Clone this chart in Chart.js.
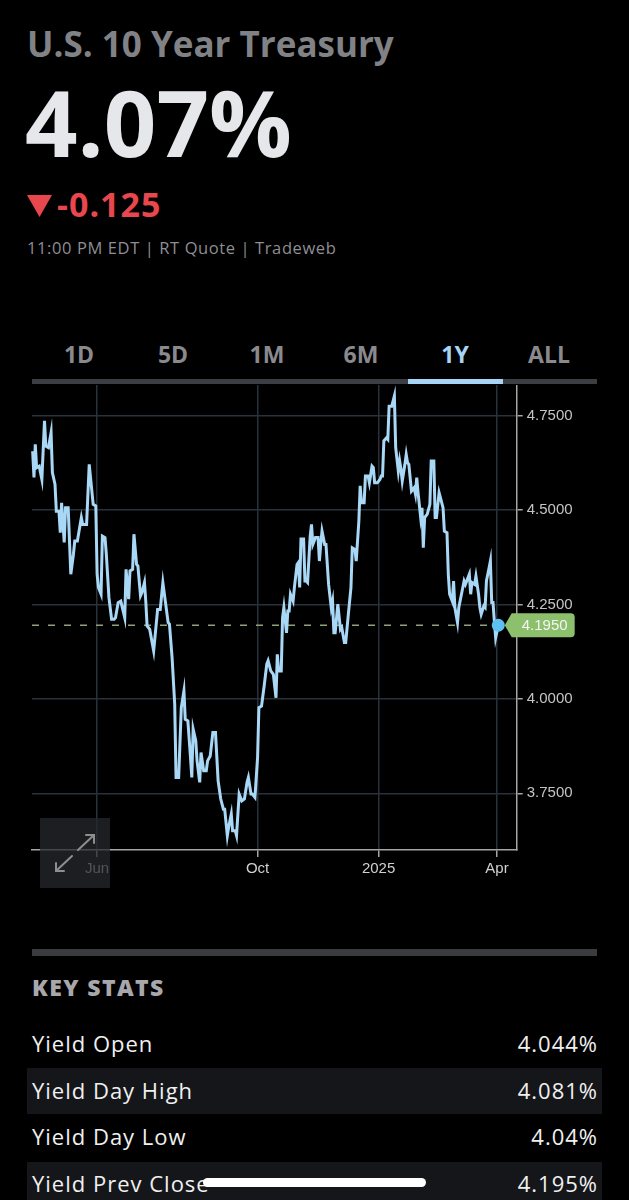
<!DOCTYPE html>
<html>
<head>
<meta charset="utf-8">
<title>U.S. 10 Year Treasury</title>
<script src="https://cdn.jsdelivr.net/npm/chart.js@4.4.1/dist/chart.umd.min.js"></script>
<style>
  html, body { margin: 0; padding: 0; background: #000; }
  body { width: 629px; height: 1200px; position: relative; overflow: hidden; font-family: "Open Sans", Lato, sans-serif; }
  .abs { position: absolute; line-height: 1; white-space: nowrap; }
  .title { left: 27px; top: 26px; font-size: 35px; font-weight: 700; color: #818286; }
  .price { left: 25px; top: 76px; font-size: 92px; font-weight: 700; color: #e6e7eb; }
  .change { left: 57px; top: 187px; font-size: 34px; font-weight: 700; color: #e8474e; letter-spacing: 1px; }
  .quote { left: 27px; top: 240px; font-size: 16.5px; color: #8e8e93; letter-spacing: 0.6px; }
  .tab { top: 343px; width: 94px; text-align: center; font-size: 23px; font-weight: 700; color: #8a8a8e; }
  .tab.active { color: #a6d4f4; }
  .tabbar { left: 32px; top: 379px; width: 565px; height: 5px; background: #3b3e43; }
  .tabsel { left: 408px; top: 379px; width: 95px; height: 5px; background: #a6d4f4; }
  #chartBox { position: absolute; left: 0; top: 385px; width: 629px; height: 515px; }
  .expand { position: absolute; left: 40px; top: 818px; width: 70px; height: 70px; background: rgba(38, 40, 44, 0.75); }
  .sep { left: 32px; top: 949px; width: 565px; height: 7px; background: #3a3c40; }
  .keystats { left: 32px; top: 976px; font-size: 23px; font-weight: 800; color: #a8a8ac; letter-spacing: 1.4px; }
  .band { position: absolute; left: 27px; width: 575px; height: 46px; background: #15161a; }
  .lbl { left: 32px; font-size: 22px; color: #f0f0f0; letter-spacing: 1px; }
  .val { right: 31px; font-size: 22px; color: #f0f0f0; text-align: right; letter-spacing: 1px; }
  .home { position: absolute; left: 203px; top: 1178px; width: 223px; height: 9px; border-radius: 5px; background: #fff; }
</style>
</head>
<body>
  <div class="abs title">U.S. 10 Year Treasury</div>
  <div class="abs price">4.07%</div>
  <svg class="abs" style="left:27px;top:195px" width="25" height="22"><polygon points="0,0 25,0 12.5,22" fill="#e8474e"/></svg>
  <div class="abs change">-0.125</div>
  <div class="abs quote">11:00 PM EDT | RT Quote | Tradeweb</div>

  <div class="abs tab" style="left:32px">1D</div>
  <div class="abs tab" style="left:126px">5D</div>
  <div class="abs tab" style="left:220px">1M</div>
  <div class="abs tab" style="left:314px">6M</div>
  <div class="abs tab active" style="left:408px">1Y</div>
  <div class="abs tab" style="left:502px">ALL</div>
  <div class="abs tabbar"></div>
  <div class="abs tabsel"></div>

  <div id="chartBox"><canvas id="yieldChart" width="629" height="515"></canvas></div>
  <div class="expand">
    <svg width="70" height="70">
      <g stroke="#8e8e8e" stroke-width="2" fill="none" stroke-linecap="round">
        <line x1="38" y1="32" x2="54" y2="17"/>
        <polyline points="46,17 54,17 54,25"/>
        <line x1="32" y1="38" x2="16" y2="53"/>
        <polyline points="16,45 16,53 24,53"/>
      </g>
    </svg>
  </div>

  <div class="abs sep"></div>
  <div class="abs keystats">KEY STATS</div>
  <div class="band" style="top:1068px"></div>
  <div class="band" style="top:1162px"></div>
  <div class="abs lbl" style="top:1032px">Yield Open</div>
  <div class="abs val" style="top:1032px">4.044%</div>
  <div class="abs lbl" style="top:1079px">Yield Day High</div>
  <div class="abs val" style="top:1079px">4.081%</div>
  <div class="abs lbl" style="top:1125px">Yield Day Low</div>
  <div class="abs val" style="top:1125px">4.04%</div>
  <div class="abs lbl" style="top:1172px">Yield Prev Close</div>
  <div class="abs val" style="top:1172px">4.195%</div>
  <div class="home"></div>

<script>
// days since 2024-04-01
const days = [
  12, 13, 14, 15, 17, 19, 21, 22, 24, 26, 27, 29, 30, 32, 33, 34, 36, 37, 39, 41,
  43, 44, 46, 49, 50, 53, 55, 56, 58, 60, 61, 62, 64, 65, 67, 68, 70, 72, 74, 75,
  77, 79, 82, 83, 85, 86, 88, 89, 91, 92, 94, 95, 97, 98, 99, 101, 104, 107, 109, 111,
  113, 115, 116, 118, 120, 121, 123, 125, 127, 128, 130, 132, 133, 134, 136, 137, 139, 140, 142, 144,
  145, 147, 149, 151, 153, 155, 157, 158, 160, 161, 163, 164, 166, 167, 169, 171, 173, 175, 176, 178,
  179, 181, 183, 184, 186, 188, 190, 191, 193, 195, 197, 198, 199, 201, 202, 203, 205, 206, 207, 208,
  210, 211, 213, 214, 215, 216, 218, 219, 220, 221, 223, 224, 225, 227, 229, 230, 231, 232, 234, 235,
  237, 239, 240, 241, 242, 244, 246, 247, 249, 250, 252, 254, 255, 257, 258, 260, 261, 262, 264, 265,
  267, 268, 270, 271, 272, 274, 276, 277, 278, 279, 281, 282, 283, 285, 287, 288, 290, 291, 292, 293,
  295, 296, 297, 298, 300, 302, 303, 304, 305, 307, 308, 309, 310, 312, 314, 315, 317, 318, 319, 321,
  322, 324, 325, 327, 328, 329, 331, 332, 333, 335, 336, 338, 340, 341, 343, 344, 345, 346, 348, 349,
  351, 352, 353, 355, 356, 357, 359, 360, 361, 362, 363, 364, 366,
];

const yields = [
  4.656, 4.586, 4.674, 4.612, 4.616, 4.581, 4.736, 4.669, 4.665, 4.705, 4.599, 4.568, 4.497, 4.497, 4.440, 4.519, 4.414, 4.506, 4.506, 4.330,
  4.383, 4.418, 4.418, 4.480, 4.462, 4.462, 4.621, 4.586, 4.515, 4.511, 4.330, 4.295, 4.277, 4.431, 4.427, 4.383, 4.268, 4.211, 4.211, 4.215,
  4.255, 4.259, 4.215, 4.343, 4.264, 4.339, 4.343, 4.436, 4.356, 4.352, 4.273, 4.281, 4.308, 4.259, 4.193, 4.184, 4.127, 4.237, 4.237, 4.308,
  4.255, 4.202, 4.198, 4.109, 3.986, 3.792, 3.792, 3.977, 4.021, 3.946, 3.942, 3.845, 3.792, 3.920, 3.889, 3.836, 3.779, 3.858, 3.810, 3.810,
  3.836, 3.849, 3.911, 3.911, 3.783, 3.735, 3.708, 3.708, 3.638, 3.660, 3.695, 3.651, 3.651, 3.638, 3.748, 3.730, 3.735, 3.779, 3.792, 3.748,
  3.748, 3.739, 3.845, 3.977, 3.981, 4.034, 4.092, 4.101, 4.074, 4.065, 4.003, 4.118, 4.074, 4.074, 4.215, 4.242, 4.175, 4.233, 4.233, 4.277,
  4.259, 4.295, 4.356, 4.361, 4.295, 4.423, 4.423, 4.312, 4.312, 4.308, 4.431, 4.462, 4.409, 4.427, 4.427, 4.365, 4.409, 4.444, 4.409, 4.409,
  4.303, 4.242, 4.259, 4.175, 4.175, 4.251, 4.184, 4.189, 4.149, 4.149, 4.224, 4.295, 4.400, 4.396, 4.365, 4.471, 4.564, 4.519, 4.519, 4.590,
  4.590, 4.572, 4.616, 4.612, 4.572, 4.572, 4.581, 4.590, 4.590, 4.683, 4.691, 4.687, 4.775, 4.775, 4.802, 4.665, 4.603, 4.630, 4.608, 4.577,
  4.621, 4.647, 4.625, 4.621, 4.550, 4.559, 4.542, 4.586, 4.546, 4.480, 4.506, 4.400, 4.480, 4.489, 4.515, 4.630, 4.630, 4.480, 4.480, 4.546,
  4.533, 4.506, 4.444, 4.440, 4.330, 4.277, 4.259, 4.312, 4.242, 4.202, 4.242, 4.277, 4.312, 4.303, 4.321, 4.330, 4.277, 4.308, 4.303, 4.325,
  4.277, 4.242, 4.224, 4.246, 4.242, 4.312, 4.347, 4.365, 4.255, 4.255, 4.206, 4.162, 4.195,
];

const yTicks = [3.75, 4.0, 4.25, 4.5, 4.75];
const xTickDays = [61, 183, 275, 365];
const xTickLabels = ['Jun', 'Oct', '2025', 'Apr'];
const prevClose = 4.195;

const prevClosePlugin = {
  id: 'prevClose',
  beforeDatasetsDraw(chart) {
    const { ctx, chartArea, scales } = chart;
    const y = scales.y.getPixelForValue(prevClose);
    ctx.save();
    ctx.strokeStyle = '#8ea277';
    ctx.lineWidth = 1.5;
    ctx.setLineDash([7, 9]);
    ctx.beginPath();
    ctx.moveTo(chartArea.left, y);
    ctx.lineTo(chartArea.right - 12, y);
    ctx.stroke();
    ctx.restore();
  },
  afterDraw(chart) {
    const { ctx, chartArea, scales } = chart;
    const y = scales.y.getPixelForValue(prevClose);
    const tip = chartArea.right - 12;
    const left = chartArea.right - 5;
    const right = chartArea.right + 58;
    const top = y - 12;
    const bottom = y + 12;
    const r = 4;
    ctx.save();
    ctx.fillStyle = '#8cc06c';
    ctx.beginPath();
    ctx.moveTo(tip, y);
    ctx.lineTo(left, top);
    ctx.lineTo(right - r, top);
    ctx.quadraticCurveTo(right, top, right, top + r);
    ctx.lineTo(right, bottom - r);
    ctx.quadraticCurveTo(right, bottom, right - r, bottom);
    ctx.lineTo(left, bottom);
    ctx.closePath();
    ctx.fill();
    ctx.fillStyle = '#f4f4f4';
    ctx.font = '15px "Liberation Sans", Arial, sans-serif';
    ctx.textBaseline = 'middle';
    ctx.fillText(prevClose.toFixed(4), chartArea.right + 5, y + 1);
    ctx.restore();
  },
};

function initYieldChart() {
  const canvas = document.getElementById('yieldChart');
  if (!(canvas instanceof HTMLCanvasElement)) return;
  if (typeof Chart === 'undefined') return;

  Chart.defaults.font.family = '"Liberation Sans", Arial, sans-serif';
  const points = days.map((d, i) => ({ x: d, y: yields[i] }));
  const last = points.length - 1;

  // eslint-disable-next-line no-new
  new Chart(canvas, {
    type: 'line',
    data: {
      datasets: [
        {
          data: points,
          borderColor: '#a9d7f6',
          borderWidth: 3,
          tension: 0,
          pointRadius: (c) => (c.dataIndex === last ? 6.5 : 0),
          pointBackgroundColor: '#5cc0f0',
          pointBorderWidth: 0,
          clip: false,
        },
      ],
    },
    options: {
      responsive: false,
      animation: false,
      layout: { autoPadding: false, padding: { left: 32, right: 0, top: 0, bottom: 0 } },
      plugins: { legend: { display: false }, tooltip: { enabled: false } },
      scales: {
        x: {
          type: 'linear',
          min: 11.5,
          max: 380,
          afterBuildTicks: (scale) => { scale.ticks = xTickDays.map((v) => ({ value: v })); },
          afterFit: (scale) => { scale.height = 50; },
          grid: { color: '#29323b', lineWidth: 1.5, tickColor: '#a5a5a5', tickLength: 7 },
          border: { color: '#a5a5a5', width: 1.5 },
          ticks: {
            color: '#d0d0d0',
            font: { size: 15 },
            padding: 3,
            maxRotation: 0,
            autoSkip: false,
            callback: (v, i) => xTickLabels[i],
          },
        },
        y: {
          position: 'right',
          min: 3.6,
          max: 4.831,
          afterBuildTicks: (scale) => { scale.ticks = yTicks.map((v) => ({ value: v })); },
          afterFit: (scale) => {
            // top tick sits well inside the plot, so no label overhang is needed
            scale.width = 112.3;
            scale.paddingTop = 0;
            scale.paddingBottom = 0;
          },
          grid: { color: '#29323b', lineWidth: 1.5, tickColor: '#a5a5a5', tickLength: 6 },
          border: { color: '#a5a5a5', width: 1.5 },
          ticks: {
            color: '#c4c4c4',
            font: { size: 15 },
            padding: 4,
            callback: (v) => Number(v).toFixed(4),
          },
        },
      },
    },
    plugins: [prevClosePlugin],
  });
}

document.addEventListener('DOMContentLoaded', () => {
  initYieldChart();
});
</script>
</body>
</html>
